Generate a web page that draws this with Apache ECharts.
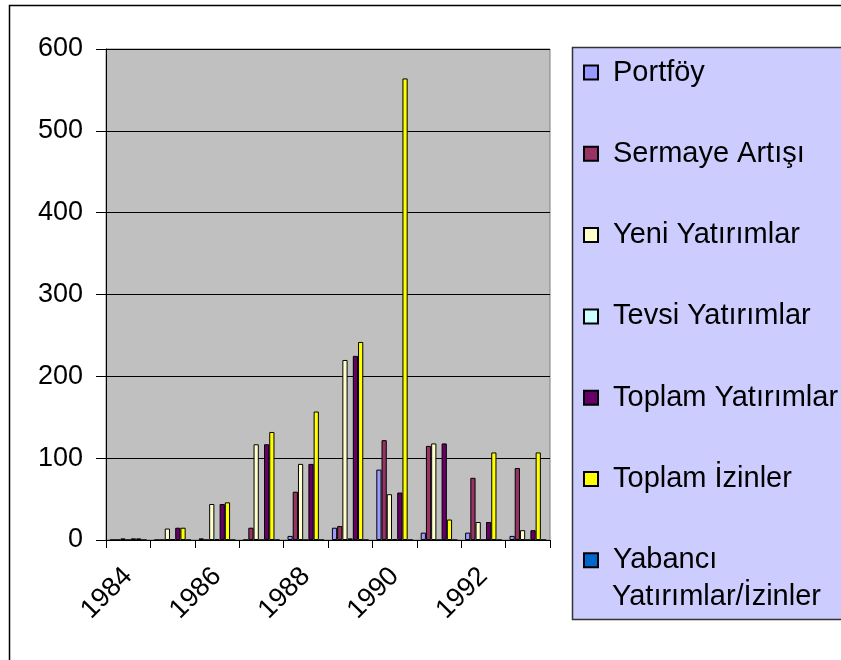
<!DOCTYPE html>
<html>
<head>
<meta charset="utf-8">
<script src="https://cdn.jsdelivr.net/npm/echarts@6/dist/echarts.min.js"></script>
<style>
html,body{margin:0;padding:0;background:#fff;}
#c{width:841px;height:660px;}
</style>
</head>
<body>
<div id="c"></div>
<script>
const years = ['1984','1985','1986','1987','1988','1989','1990','1991','1992','1993'];
const seriesNames = ['Portföy','Sermaye Artışı','Yeni Yatırımlar','Tevsi Yatırımlar','Toplam Yatırımlar','Toplam İzinler','Yabancı Yatırımlar/İzinler'];
const portfoy        = [0, 0, 2, 0, 5, 15, 86, 9, 9, 5];
const sermaye        = [0, 0, 0, 15, 59, 17, 122, 115, 76, 88];
const yeni           = [2, 14, 44, 117, 93, 220, 56, 118, 22, 12];
const tevsi          = [0, 1, 1, 0, 0, 2, 1, 0, 0, 0];
const toplamYat      = [2, 15, 44, 117, 93, 225, 58, 118, 22, 12];
const toplamIzin     = [2, 15, 46, 132, 157, 242, 564, 25, 107, 107];
const yabanci        = [0, 0, 0, 0, 0, 0, 0, 0, 0, 0];
const yTicks = [0, 100, 200, 300, 400, 500, 600];
const colors = ['#9999FF','#993366','#FFFFCC','#CCFFFF','#660066','#FFFF00','#0066CC'];
const allData = [portfoy, sermaye, yeni, tevsi, toplamYat, toplamIzin, yabanci];

const font = 'Liberation Sans, Arial, sans-serif';
const chart = echarts.init(document.getElementById('c'), null, {renderer:'canvas'});

const series = seriesNames.map((n, i) => ({
  name: n,
  type: 'bar',
  data: allData[i],
  barGap: '0%',
  barCategoryGap: '17.6%',
  itemStyle: {color: colors[i], borderColor: '#000', borderWidth: 1},
  emphasis: {disabled: true},
  animation: false
}));

chart.setOption({
  animation: false,
  backgroundColor: '#ffffff',
  graphic: [
    {type: 'rect', z: -10, shape: {x: 9.5, y: 5.5, width: 900, height: 700}, style: {fill: '#fff', stroke: '#000', lineWidth: 1.5}},
    {type: 'rect', z: -5, shape: {x: 572.5, y: 47.5, width: 300, height: 572}, style: {fill: '#CCCCFF', stroke: '#333', lineWidth: 1.5}},
    {type: 'text', z: 10, left: 612, top: 582, style: {text: 'Yatırımlar/İzinler', font: '29px ' + font, fill: '#000'}}
  ],
  grid: {left: 106, top: 49, right: 291, bottom: 120, show: true, backgroundColor: '#C0C0C0', borderColor: '#808080', borderWidth: 1},
  legend: {
    orient: 'vertical',
    left: 583,
    top: 56,
    height: 600,
    padding: 0,
    itemWidth: 14,
    itemHeight: 14,
    itemGap: 48.3,
    icon: 'rect',
    selectedMode: false,
    data: seriesNames,
    formatter: function(name){ return name === 'Yabancı Yatırımlar/İzinler' ? 'Yabancı' : name; },
    textStyle: {fontFamily: font, fontSize: 29, color: '#000', lineHeight: 33, padding: [0, 0, 0, 10]}
  },
  xAxis: {
    type: 'category',
    data: years,
    axisLine: {lineStyle: {color: '#000', width: 1}},
    axisTick: {show: true, length: 8, alignWithLabel: false, interval: 0, lineStyle: {color: '#000'}},
    axisLabel: {interval: 1, rotate: 45, margin: 32, fontFamily: font, fontSize: 27, color: '#000'},
    splitLine: {show: false}
  },
  yAxis: {
    type: 'value',
    min: yTicks[0],
    max: yTicks[yTicks.length - 1],
    interval: 100,
    axisLine: {show: true, lineStyle: {color: '#000', width: 1}},
    axisTick: {show: true, length: 10, lineStyle: {color: '#000'}},
    axisLabel: {margin: 23, fontFamily: font, fontSize: 27, color: '#000'},
    splitLine: {show: true, lineStyle: {color: '#000', width: 1}}
  },
  series: series
});
</script>
</body>
</html>
